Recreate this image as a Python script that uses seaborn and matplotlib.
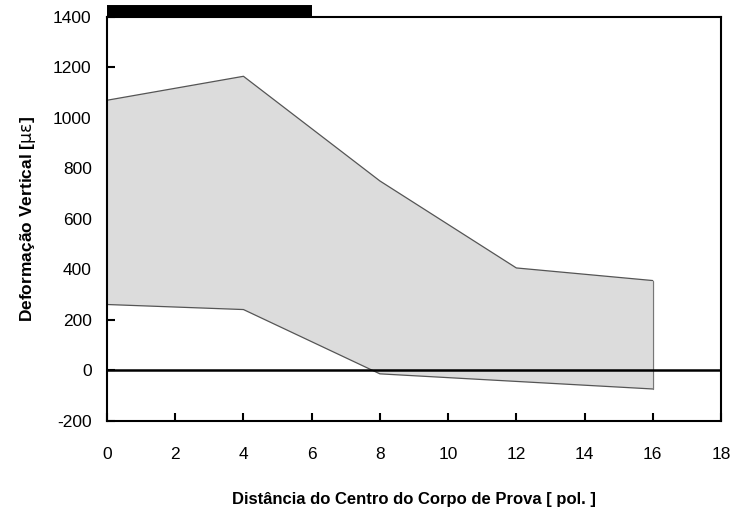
import matplotlib
matplotlib.use("Agg")
import matplotlib.pyplot as plt
import seaborn as sns
import pandas as pd

# Envelope of vertical strain measured along the specimen
distance = [0, 4, 8, 12, 16]
strain_upper = [1070, 1165, 750, 405, 355]
strain_lower = [260, 240, -15, -45, -75]

x_ticks = [0, 2, 4, 6, 8, 10, 12, 14, 16, 18]
y_ticks = [-200, 0, 200, 400, 600, 800, 1000, 1200, 1400]
load_span = [0, 6]

sns.set_theme(style="white")
plt.rcParams["font.family"] = ["Liberation Sans", "DejaVu Sans"]
plt.rcParams["text.color"] = "black"

df = pd.DataFrame({"dist": distance, "upper": strain_upper, "lower": strain_lower})

fig = plt.figure(figsize=(7.36, 5.13), dpi=100)
ax = fig.add_axes([0.1454, 0.1803, 0.8342, 0.7865])

ax.fill_between(df["dist"], df["lower"], df["upper"], facecolor="#dcdcdc",
                edgecolor="none", zorder=1)
sns.lineplot(data=df, x="dist", y="upper", color="#555555", lw=0.9, ax=ax, zorder=2)
sns.lineplot(data=df, x="dist", y="lower", color="#555555", lw=0.9, ax=ax, zorder=2)
ax.plot([distance[-1], distance[-1]], [strain_lower[-1], strain_upper[-1]],
        color="#777777", lw=0.9, zorder=2)

ax.axhline(0, color="black", lw=1.8, zorder=3)

# Loaded region marked along the top of the frame
ax.plot(load_span, [1424, 1424], color="black", lw=8.6, solid_capstyle="butt",
        clip_on=False, zorder=4)

ax.set_xlim(0, 18)
ax.set_ylim(-200, 1400)
ax.set_xticks(x_ticks)
ax.set_yticks(y_ticks)
ax.set_xticklabels([str(t) for t in x_ticks], fontsize=12.5)
ax.set_yticklabels([str(t) for t in y_ticks], fontsize=12.5)
ax.tick_params(axis="both", direction="in", length=6, width=1.5, colors="black",
               labelcolor="black", bottom=True, left=True, top=False, right=False)
ax.tick_params(axis="x", pad=19)
ax.tick_params(axis="y", pad=11)

for s in ax.spines.values():
    s.set_color("black")
    s.set_linewidth(1.5)

ax.set_xlabel("Distância do Centro do Corpo de Prova [ pol. ]", fontsize=12,
              fontweight="bold", labelpad=22, color="black")
ax.set_ylabel(r"Deformação Vertical [$\mathrm{\mu\varepsilon}$]", fontsize=12.5,
              fontweight="bold", labelpad=11, color="black")

fig.savefig("out.png", dpi=100, facecolor="white")
